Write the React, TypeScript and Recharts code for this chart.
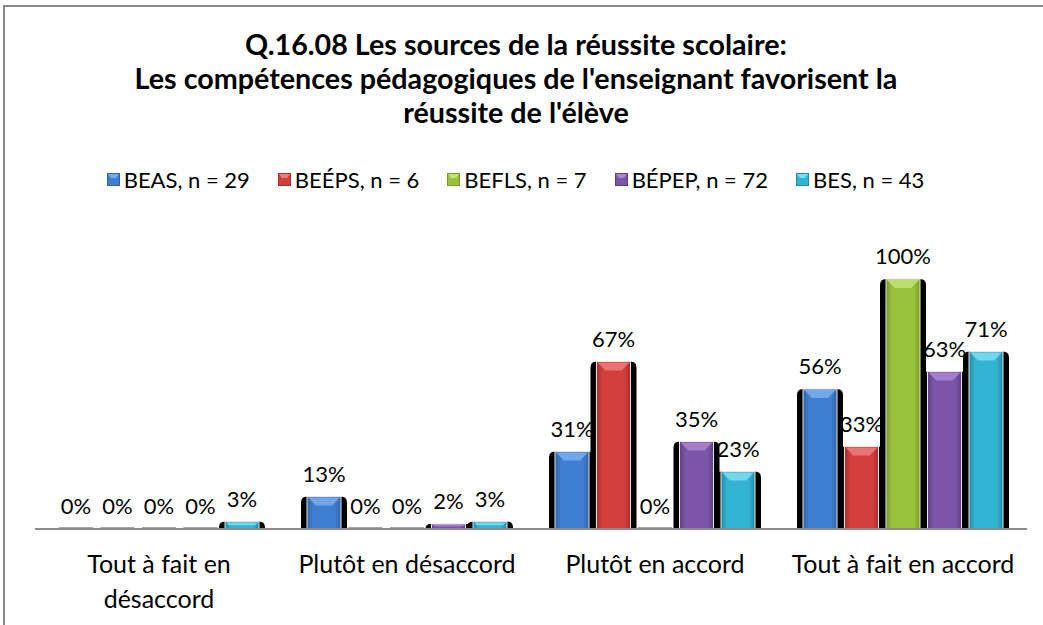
import { BarChart, Bar, XAxis, YAxis, LabelList, Legend } from 'recharts'

const categories = [
  'Tout à fait en désaccord',
  'Plutôt en désaccord',
  'Plutôt en accord',
  'Tout à fait en accord',
]
const seriesNames = ['BEAS, n = 29', 'BEÉPS, n = 6', 'BEFLS, n = 7', 'BÉPEP, n = 72', 'BES, n = 43']
const beas = [0, 13, 31, 56]
const beeps = [0, 0, 67, 33]
const befls = [0, 0, 0, 100]
const bepep = [0, 2, 35, 63]
const bes = [3, 3, 23, 71]
const titleLines = [
  'Q.16.08 Les sources de la réussite scolaire:',
  "Les compétences pédagogiques de l'enseignant favorisent la",
  "réussite de l'élève",
]

const COLORS = ['#3F7FD1', '#D23F3C', '#9BC23C', '#7D55A8', '#33B3D2']
const LIGHT = ['#7AAEEE', '#F07E7A', '#C3E27A', '#AA86D2', '#7FDDF2']
const DARK = ['#2E62A8', '#A82E2C', '#789A2A', '#5E3E86', '#2289A6']
const FONT = "Lato, 'Open Sans', sans-serif"

const seriesValues = [beas, beeps, befls, bepep, bes]
const data = categories.map((category, i) => {
  const row: Record<string, string | number> = { category }
  seriesValues.forEach((vals, s) => {
    row[`s${s}`] = vals[i]
  })
  return row
})

// word wrap for the category labels (Excel wraps the long one)
let measureCtx: CanvasRenderingContext2D | null = null
function wrapText(text: string, maxWidth: number, font: string) {
  if (!measureCtx) measureCtx = document.createElement('canvas').getContext('2d')
  measureCtx!.font = font
  const lines: string[] = []
  let cur = ''
  text.split(' ').forEach((w) => {
    const test = cur ? `${cur} ${w}` : w
    if (cur && measureCtx!.measureText(test).width > maxWidth) {
      lines.push(cur)
      cur = w
    } else {
      cur = test
    }
  })
  if (cur) lines.push(cur)
  return lines
}

function BevelBar(props: any) {
  const { x, y, width, height, idx } = props
  if (width == null || isNaN(x)) return null
  const h = Math.max(0, height)
  if (h < 1) {
    return <rect x={x} y={y + h - 2} width={width} height={2} fill="#a6a6a6" />
  }
  const r = Math.min(6, h)
  const sx = x - 6
  const sw = width + 12
  const shadow = `M${sx},${y + h} L${sx},${y + r} Q${sx},${y} ${sx + r},${y} L${sx + sw - r},${y} Q${sx + sw},${y} ${sx + sw},${y + r} L${sx + sw},${y + h} Z`
  const bev = Math.min(9, h / 2)
  return (
    <g>
      <path d={shadow} fill="#000" />
      <rect x={x} y={y} width={width} height={h} fill={`url(#body${idx})`} stroke="#e8e8e8" strokeWidth={1} />
      <polygon
        points={`${x + 1},${y + 1} ${x + width - 1},${y + 1} ${x + width - bev},${y + bev} ${x + bev},${y + bev}`}
        fill={LIGHT[idx]}
        opacity={0.85}
      />
    </g>
  )
}

function ValueLabel(props: any) {
  const { x, y, width, value } = props
  if (x == null || y == null) return null
  return (
    <text x={x + width / 2} y={y - 15} textAnchor="middle" fontSize={22} fontFamily={FONT} fill="#000">
      {`${value}%`}
    </text>
  )
}

function CategoryTick(props: any) {
  const { x, y, payload } = props
  const lines = wrapText(String(payload.value), 236, `25px ${FONT}`)
  return (
    <text x={x} y={y + 36} textAnchor="middle" fontSize={25} fontFamily={FONT} fill="#000">
      {lines.map((l, i) => (
        <tspan key={l} x={x} dy={i === 0 ? 0 : 35}>
          {l}
        </tspan>
      ))}
    </text>
  )
}

function LegendContent() {
  return (
    <div style={{ display: 'flex', justifyContent: 'center', gap: 28, fontFamily: FONT, fontSize: 22, color: '#000' }}>
      {seriesNames.map((name, i) => (
        <div key={name} style={{ display: 'flex', alignItems: 'center' }}>
          <svg width={13} height={13} style={{ marginRight: 4 }}>
            <rect x={0} y={0} width={13} height={13} fill={DARK[i]} />
            <rect x={1} y={1} width={11} height={11} fill={COLORS[i]} />
            <polygon points="1,1 12,1 9,5 4,5" fill={LIGHT[i]} />
          </svg>
          <span>{name}</span>
        </div>
      ))}
    </div>
  )
}

export default function App() {
  return (
    <div style={{ position: 'absolute', left: 0, top: 0, width: 1043, height: 625, background: '#fff', overflow: 'hidden' }}>
      <div
        style={{
          position: 'absolute',
          left: 3,
          top: 5,
          width: 1060,
          height: 640,
          borderLeft: '2px solid #898989',
          borderTop: '2px solid #898989',
        }}
      />
      <div
        style={{
          position: 'absolute',
          left: 0,
          top: 27,
          width: 1032,
          textAlign: 'center',
          fontFamily: FONT,
          fontWeight: 700,
          fontSize: 28.7,
          lineHeight: '34px',
          color: '#000',
        }}
      >
        {titleLines.map((l) => (
          <div key={l}>{l}</div>
        ))}
      </div>
      <BarChart
        width={1043}
        height={625}
        data={data}
        margin={{ top: 279, right: 16, bottom: 66, left: 35 }}
        barSize={34}
        barGap={7.5}
        style={{ position: 'absolute', left: 0, top: 0 }}
      >
        <defs>
          {COLORS.map((c, i) => (
            <linearGradient key={c} id={`body${i}`} x1="0" y1="0" x2="1" y2="0">
              <stop offset="0%" stopColor={DARK[i]} />
              <stop offset="18%" stopColor={c} />
              <stop offset="82%" stopColor={c} />
              <stop offset="100%" stopColor={DARK[i]} />
            </linearGradient>
          ))}
        </defs>
        <YAxis hide domain={[0, 100]} />
        <XAxis xAxisId="lbl" dataKey="category" hide />
        <XAxis
          dataKey="category"
          height={30}
          axisLine={{ stroke: '#8c8c8c', strokeWidth: 2 }}
          tickLine={false}
          tick={<CategoryTick />}
          interval={0}
        />
        <Legend
          verticalAlign="middle"
          layout="horizontal"
          align="center"
          content={<LegendContent />}
          wrapperStyle={{ position: 'absolute', top: 166, left: -6, width: 1043 }}
        />
        {seriesNames.map((name, i) => (
          <Bar
            key={`lbl${i}`}
            xAxisId="lbl"
            dataKey={`s${i}`}
            fill="transparent"
            legendType="none"
            minPointSize={0.01}
            isAnimationActive={false}
          >
            <LabelList dataKey={`s${i}`} content={<ValueLabel />} />
          </Bar>
        ))}
        {seriesNames.map((name, i) => (
          <Bar
            key={name}
            dataKey={`s${i}`}
            name={name}
            fill={COLORS[i]}
            minPointSize={0.01}
            isAnimationActive={false}
            shape={(p: any) => <BevelBar {...p} idx={i} />}
          />
        ))}
      </BarChart>
    </div>
  )
}
